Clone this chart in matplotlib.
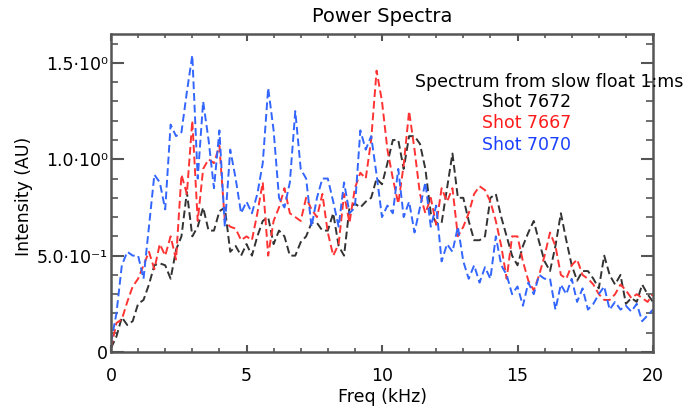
import numpy as np
import matplotlib
matplotlib.use("Agg")
import matplotlib.pyplot as plt
from matplotlib.ticker import MultipleLocator, FixedLocator

# frequency grid (kHz), one sample every 0.2 kHz
freq = np.linspace(0, 20, 101)

shot_7672 = [0.02, 0.08, 0.18, 0.14, 0.16, 0.25, 0.27, 0.35, 0.45, 0.46,
             0.45, 0.38, 0.53, 0.60, 0.83, 0.60, 0.65, 0.75, 0.63, 0.63,
             0.73, 0.75, 0.52, 0.55, 0.50, 0.56, 0.50, 0.60, 0.68, 0.70,
             0.56, 0.63, 0.60, 0.50, 0.50, 0.57, 0.60, 0.67, 0.67, 0.63,
             0.63, 0.72, 0.55, 0.50, 0.75, 0.77, 0.75, 0.78, 0.80, 0.90,
             0.87, 0.98, 1.10, 1.10, 0.95, 1.12, 1.12, 1.08, 0.95, 0.72,
             0.67, 0.67, 0.85, 1.03, 0.80, 0.80, 0.68, 0.58, 0.58, 0.60,
             0.80, 0.82, 0.70, 0.60, 0.50, 0.45, 0.55, 0.62, 0.68, 0.57,
             0.47, 0.42, 0.55, 0.72, 0.58, 0.45, 0.37, 0.42, 0.42, 0.38,
             0.33, 0.50, 0.40, 0.35, 0.40, 0.25, 0.28, 0.26, 0.35, 0.30,
             0.26]

shot_7667 = [0.02, 0.15, 0.17, 0.26, 0.34, 0.38, 0.45, 0.52, 0.43, 0.56,
             0.50, 0.60, 0.48, 0.92, 0.82, 1.20, 0.68, 0.95, 1.00, 0.98,
             1.07, 0.68, 0.65, 0.64, 0.58, 0.60, 0.58, 0.72, 0.88, 0.50,
             0.68, 0.75, 0.85, 0.72, 0.70, 0.68, 0.80, 0.74, 0.70, 0.82,
             0.62, 0.50, 0.56, 0.82, 0.67, 0.85, 0.93, 0.90, 1.10, 1.46,
             1.30, 1.05, 0.90, 0.77, 0.97, 1.25, 1.05, 0.82, 0.72, 0.80,
             0.66, 0.85, 0.78, 0.85, 0.60, 0.65, 0.72, 0.82, 0.86, 0.84,
             0.78, 0.68, 0.55, 0.38, 0.60, 0.60, 0.47, 0.37, 0.32, 0.40,
             0.50, 0.62, 0.55, 0.40, 0.38, 0.45, 0.48, 0.40, 0.38, 0.35,
             0.30, 0.27, 0.27, 0.30, 0.35, 0.32, 0.28, 0.30, 0.28, 0.26,
             0.30]

shot_7070 = [0.05, 0.20, 0.45, 0.52, 0.50, 0.50, 0.38, 0.65, 0.92, 0.88,
             0.74, 1.18, 1.12, 1.14, 1.35, 1.54, 0.90, 1.30, 1.10, 0.85,
             1.15, 0.65, 1.05, 0.90, 0.72, 0.78, 0.72, 0.82, 0.98, 1.37,
             1.15, 0.80, 0.75, 0.88, 1.25, 0.95, 0.90, 0.65, 0.80, 0.90,
             0.90, 0.78, 0.65, 0.88, 0.72, 0.75, 1.15, 1.05, 1.12, 0.92,
             0.70, 0.76, 0.72, 0.95, 0.70, 0.78, 0.62, 0.75, 0.88, 0.65,
             0.76, 0.47, 0.56, 0.52, 0.65, 0.47, 0.38, 0.45, 0.36, 0.44,
             0.38, 0.60, 0.45, 0.40, 0.30, 0.34, 0.24, 0.36, 0.30, 0.40,
             0.38, 0.38, 0.22, 0.35, 0.30, 0.38, 0.26, 0.33, 0.22, 0.25,
             0.30, 0.34, 0.22, 0.26, 0.22, 0.24, 0.21, 0.25, 0.16, 0.19,
             0.22]

series = [("Shot 7672", shot_7672, "#333333", "black"),
          ("Shot 7667", shot_7667, "#ff3333", "#ff1a1a"),
          ("Shot 7070", shot_7070, "#3366ff", "#1a40ff")]

yticks = [0, 0.5, 1.0, 1.5]
ylabels = ["0", "5.0·10⁻¹", "1.0·10⁰", "1.5·10⁰"]
xticks = [0, 5, 10, 15, 20]

W, H = 686, 408
fig = plt.figure(figsize=(W / 100, H / 100), dpi=100)
ax = fig.add_axes([111 / W, 1 - 352 / H, (653 - 111) / W, (352 - 34) / H])

for name, vals, lc, tc in series:
    ax.plot(freq, vals, color=lc, lw=1.4, linestyle=(0, (4, 2)))

ax.set_xlim(0, 20)
ax.set_ylim(0, 1.65)
ax.xaxis.set_major_locator(FixedLocator(xticks))
ax.xaxis.set_minor_locator(MultipleLocator(1))
ax.yaxis.set_major_locator(FixedLocator(yticks))
ax.yaxis.set_minor_locator(MultipleLocator(0.1))
ax.set_yticklabels(ylabels)
ax.set_xticklabels([str(t) for t in xticks])

for s in ax.spines.values():
    s.set_color("#555555")
    s.set_linewidth(1.8)
ax.tick_params(axis="both", which="both", direction="in", top=True, right=True,
               colors="#555555", labelcolor="black", labelsize=12.5)
ax.tick_params(axis="y", which="major", length=9, width=1.5, pad=2)
ax.tick_params(axis="y", which="minor", length=5, width=1.2)
ax.tick_params(axis="x", which="major", length=5, width=1.5, pad=11)
ax.tick_params(axis="x", which="minor", length=3, width=1.2)

ax.set_title("Power Spectra", fontsize=14, pad=9)
ax.set_xlabel("Freq (kHz)", fontsize=12.5, labelpad=2)
ax.set_ylabel("Intensity (AU)", fontsize=12.5)
ax.yaxis.set_label_coords(-0.144, 0.49)

fig.text(415 / W, 1 - 82 / H, "Spectrum from slow float 1:ms", fontsize=12.5,
         va="center", ha="left", color="black")
for i, (name, vals, lc, tc) in enumerate(series):
    fig.text(482 / W, 1 - (102 + 21.5 * i) / H, name, fontsize=12.5,
             va="center", ha="left", color=tc)

fig.savefig("out.png", dpi=100)
